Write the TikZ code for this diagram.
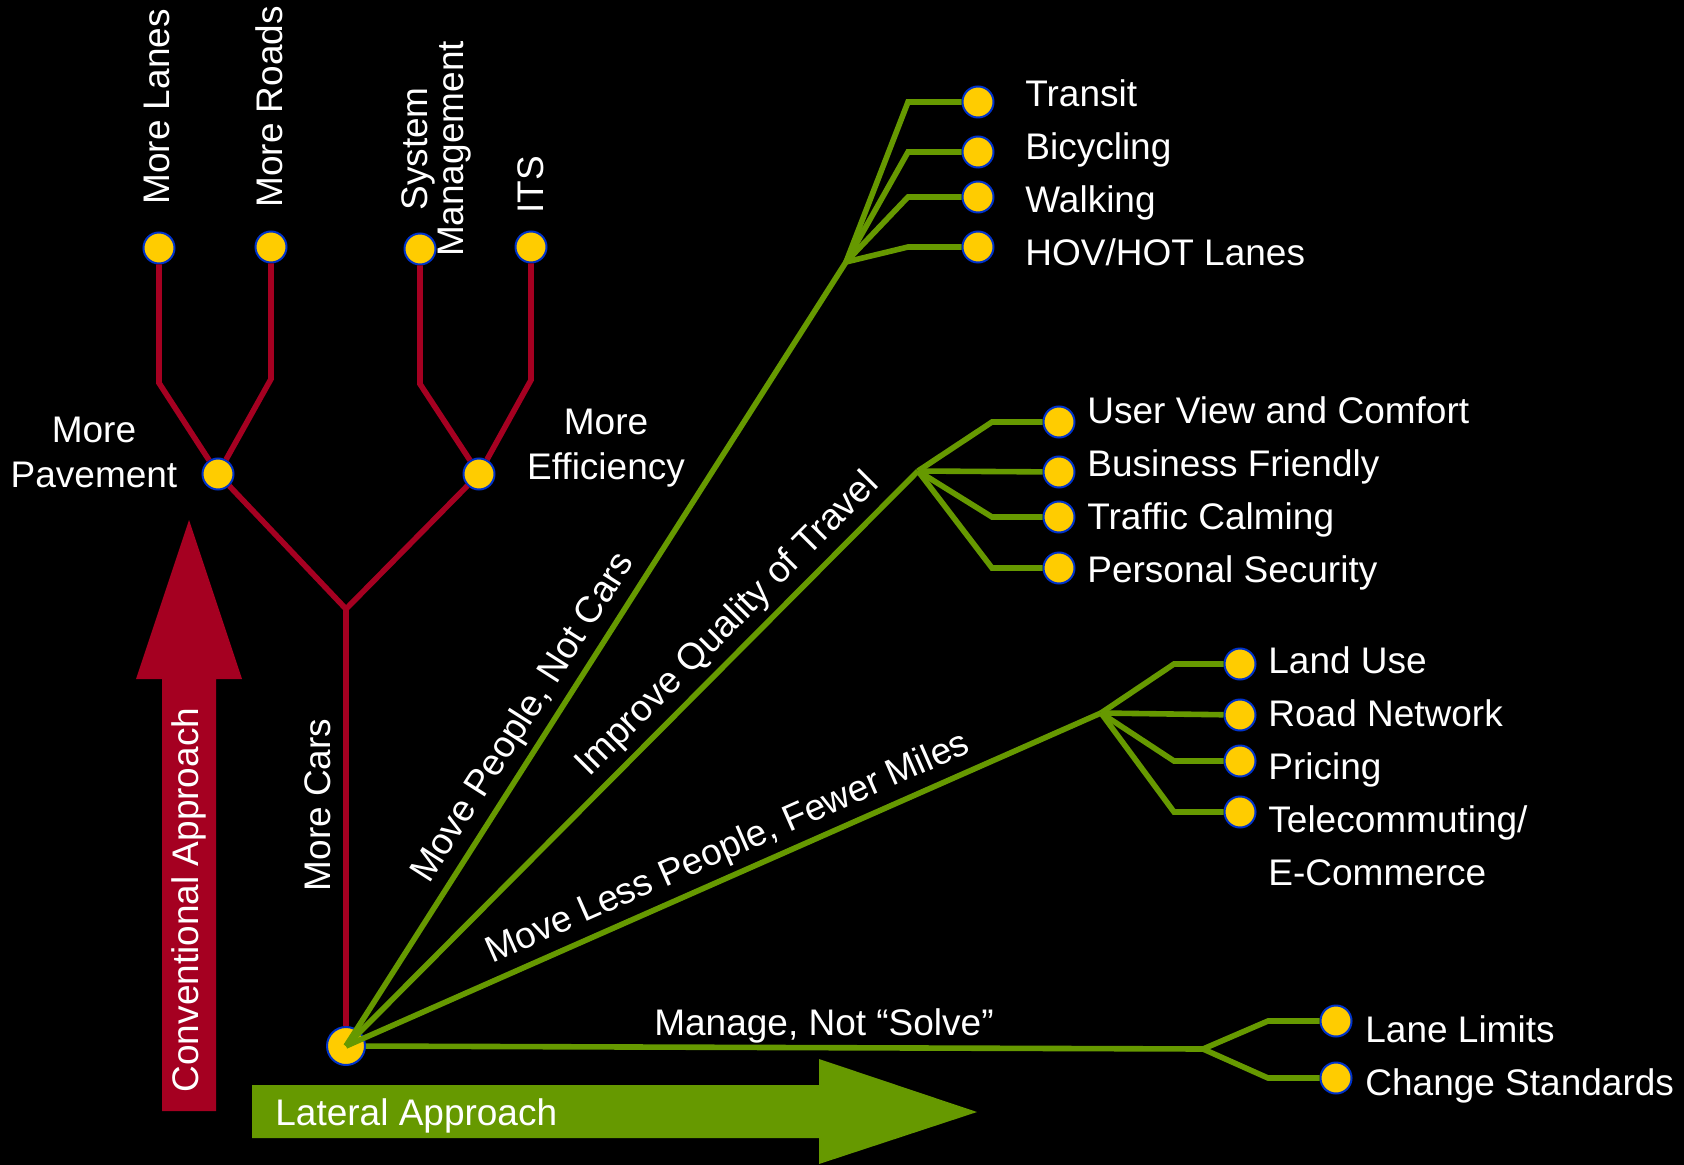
\documentclass[tikz,border=0pt]{standalone}
\usepackage{fontspec}
\setmainfont{Liberation Sans}
\usepackage{tikz}
\usetikzlibrary{positioning}
\definecolor{roadred}{RGB}{165,0,33}
\definecolor{leafgreen}{RGB}{102,153,0}
\definecolor{dotyellow}{RGB}{255,204,0}
\definecolor{dotblue}{RGB}{0,51,204}

\begin{document}
\begin{tikzpicture}[x=0.5pt, y=-0.5pt,
  dot/.style={circle, fill=dotyellow, draw=dotblue, line width=1pt, minimum size=15.5pt, inner sep=0pt},
  redline/.style={draw=roadred, line width=2.8pt},
  greenline/.style={draw=leafgreen, line width=2.8pt},
  lbl/.style={text=white, font=\fontsize{18.5}{22.5}\selectfont, inner sep=0pt},
  slopelbl/.style={text=white, font=\fontsize{18.5}{22.5}\selectfont, sloped, above, inner sep=3pt}]
\fill[black] (0,0) rectangle (1684,1165);
% big arrows
\fill[roadred] (162,1111) -- (162,679) -- (136,679) -- (189,520) -- (242,679) -- (216,679) -- (216,1111) -- cycle;
\node[lbl, rotate=90] (convlbl) at (189,900) {Conventional Approach};
\fill[leafgreen] (252,1085) -- (819,1085) -- (819,1059) -- (977,1112) -- (819,1164) -- (819,1138) -- (252,1138) -- cycle;
\node[lbl, anchor=base west] (laterallbl) at (275,1125) {Lateral Approach};
% conventional tree
\node[dot, minimum size=19pt] (root) at (346,1046) {};
\coordinate (redfork) at (346,609);
\node[dot] (pave) at (218,474) {};
\node[dot] (effic) at (479,474) {};
\node[dot] (lanes) at (159,248) {};
\node[dot] (roads) at (271,247) {};
\node[dot] (sysmgmt) at (420,249) {};
\node[dot] (its) at (531,247) {};
\draw[redline] (root) -- node[slopelbl, pos=0.53, inner sep=6pt] (carslbl) {More Cars} (redfork);
\draw[redline] (redfork) -- (pave);
\draw[redline] (redfork) -- (effic);
\draw[redline] (pave) -- ([yshift=-67.5pt]lanes.center) -- (lanes);
\draw[redline] (pave) -- ([yshift=-66pt]roads.center) -- (roads);
\draw[redline] (effic) -- ([yshift=-67.5pt]sysmgmt.center) -- (sysmgmt);
\draw[redline] (effic) -- ([yshift=-66.5pt]its.center) -- (its);
\node[lbl, align=center] (pavelbl) at (94,452) {More\\Pavement};
\node[lbl, align=center] (efficlbl) at (606,448) {More\\Efficiency};
\node[lbl, rotate=90, anchor=west] (laneslbl) at (157,205) {More Lanes};
\node[lbl, rotate=90, anchor=west] (roadslbl) at (269,208) {More Roads};
\node[lbl, rotate=90, align=center, font=\fontsize{18.5}{18}\selectfont] (sysmgmtlbl) at (436,149) {System\\Management};
\node[lbl, rotate=90, anchor=west] (itslbl) at (531,214) {ITS};
% lateral branches
\coordinate (hubpeople) at (846,262);
\coordinate (hubquality) at (918,471);
\coordinate (hubmiles) at (1101,713);
\coordinate (hubmanage) at (1203,1049);
\draw[greenline] (root.center) -- node[slopelbl, pos=0.40] (peoplelbl) {Move People, Not Cars} (hubpeople);
\draw[greenline] (root.center) -- node[slopelbl, pos=0.70] (qualitylbl) {Improve Quality of Travel} (hubquality);
\draw[greenline] (root.center) -- node[slopelbl, pos=0.52] (mileslbl) {Move Less People, Fewer Miles} (hubmiles);
\draw[greenline] (root) -- (hubmanage);
\node[lbl, anchor=base] (managelbl) at (824,1035) {Manage, Not “Solve”};
% move people leaves
\node[dot] (transit) at (978,102) {};
\node[dot] (bicycling) at (978,152) {};
\node[dot] (walking) at (978,197) {};
\node[dot] (hov) at (978,247) {};
\draw[greenline] (hubpeople) -- ([xshift=-35pt]transit.center) -- (transit);
\draw[greenline] (hubpeople) -- ([xshift=-35pt]bicycling.center) -- (bicycling);
\draw[greenline] (hubpeople) -- ([xshift=-35pt]walking.center) -- (walking);
\draw[greenline] (hubpeople) -- ([xshift=-35pt]hov.center) -- (hov);
\node[lbl, anchor=base west] (transitlbl) at (1025,107) {Transit};
\node[lbl, below=26.5pt of transitlbl.base west, anchor=base west] (bicyclinglbl) {Bicycling};
\node[lbl, below=26.5pt of bicyclinglbl.base west, anchor=base west] (walkinglbl) {Walking};
\node[lbl, below=26.5pt of walkinglbl.base west, anchor=base west] (hovlbl) {HOV/HOT Lanes};
% quality leaves
\node[dot] (userview) at (1059,422) {};
\node[dot] (business) at (1059,472) {};
\node[dot] (traffic) at (1059,517) {};
\node[dot] (personal) at (1059,568) {};
\draw[greenline] (hubquality) -- ([xshift=-33.5pt]userview.center) -- (userview);
\draw[greenline] (hubquality) -- (business);
\draw[greenline] (hubquality) -- ([xshift=-33.5pt]traffic.center) -- (traffic);
\draw[greenline] (hubquality) -- ([xshift=-33.5pt]personal.center) -- (personal);
\node[lbl, anchor=base west] (userviewlbl) at (1087,423) {User View and Comfort};
\node[lbl, below=26.5pt of userviewlbl.base west, anchor=base west] (businesslbl) {Business Friendly};
\node[lbl, below=26.5pt of businesslbl.base west, anchor=base west] (trafficlbl) {Traffic Calming};
\node[lbl, below=26.5pt of trafficlbl.base west, anchor=base west] (personallbl) {Personal Security};
% fewer miles leaves
\node[dot] (landuse) at (1240,664) {};
\node[dot] (roadnet) at (1240,715) {};
\node[dot] (pricing) at (1240,761) {};
\node[dot] (telecom) at (1240,812) {};
\draw[greenline] (hubmiles) -- ([xshift=-33pt]landuse.center) -- (landuse);
\draw[greenline] (hubmiles) -- (roadnet);
\draw[greenline] (hubmiles) -- ([xshift=-33pt]pricing.center) -- (pricing);
\draw[greenline] (hubmiles) -- ([xshift=-33pt]telecom.center) -- (telecom);
\node[lbl, anchor=base west] (landuselbl) at (1268,673) {Land Use};
\node[lbl, below=26.5pt of landuselbl.base west, anchor=base west] (roadnetlbl) {Road Network};
\node[lbl, below=26.5pt of roadnetlbl.base west, anchor=base west] (pricinglbl) {Pricing};
\node[lbl, below=26.5pt of pricinglbl.base west, anchor=base west] (telecomlbl) {Telecommuting/};
\node[lbl, below=26.5pt of telecomlbl.base west, anchor=base west] (ecomlbl) {E-Commerce};
% manage leaves
\node[dot] (lanelimits) at (1336,1021) {};
\node[dot] (changestd) at (1336,1078) {};
\draw[greenline] (hubmanage) -- ([xshift=-34pt]lanelimits.center) -- (lanelimits);
\draw[greenline] (hubmanage) -- ([xshift=-34pt]changestd.center) -- (changestd);
\node[lbl, anchor=base west] (lanelimitslbl) at (1365,1042) {Lane Limits};
\node[lbl, below=26.5pt of lanelimitslbl.base west, anchor=base west] (changestdlbl) {Change Standards};
\end{tikzpicture}
\end{document}
